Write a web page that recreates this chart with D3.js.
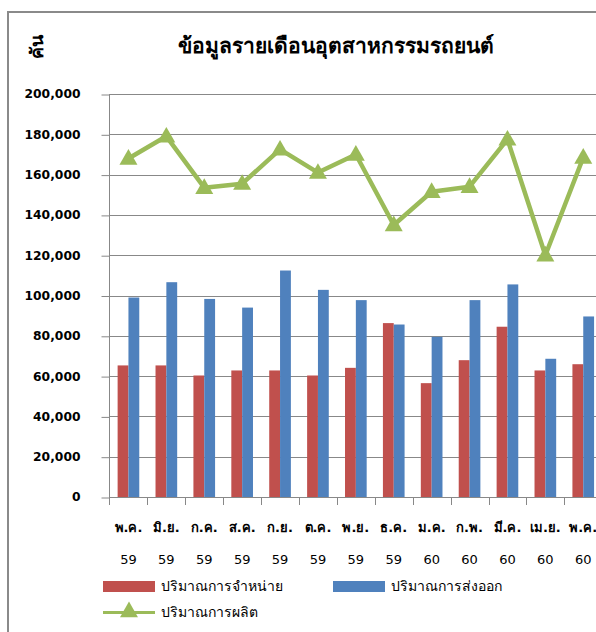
<!DOCTYPE html>
<html><head><meta charset="utf-8">
<script src="https://cdn.jsdelivr.net/npm/d3@7"></script>
<style>body{margin:0;background:#fff}svg{display:block}</style>
</head><body>
<script>
const months = ["พ.ค.","มิ.ย.","ก.ค.","ส.ค.","ก.ย.","ต.ค.","พ.ย.","ธ.ค.","ม.ค.","ก.พ.","มี.ค.","เม.ย.","พ.ค."];
const years = ["59","59","59","59","59","59","59","59","60","60","60","60","60"];
const sales = [65300,65300,60300,62800,62800,60300,64100,86300,56500,67900,84500,62800,65900];
const exportsV = [99000,106600,98300,94000,112400,102800,97700,85600,79500,97700,105500,68600,89600];
const production = [168000,179000,153500,155500,172500,161000,170000,135000,151500,154000,177500,120000,168500];
const yTicks = [0,20000,40000,60000,80000,100000,120000,140000,160000,180000,200000];
const seriesNames = ["ปริมาณการจำหน่าย","ปริมาณการส่งออก","ปริมาณการผลิต"];
const colors = ["#C0504D","#4F81BD","#9BBB59"];

(function(){
const W=596,H=632;
const svg=d3.select("body").append("svg").attr("width",W).attr("height",H);
const thai="Tahoma,'DejaVu Sans','Noto Sans',sans-serif";

svg.append("rect").attr("x",8).attr("y",12).attr("width",800).attr("height",800)
  .attr("fill","#fff").attr("stroke","#8a8a8a").attr("stroke-width",2);

const pL=109.5, pT=94, pB=497;
const idx=months.map((m,i)=>i);
const x=d3.scaleBand().domain(idx).range([pL,pL+13*37.9]).paddingInner(0).paddingOuter(0);
const y=d3.scaleLinear().domain([0,200000]).range([pB,pT]);
const bw=x.bandwidth()/3.5;

svg.append("g").selectAll("line").data(yTicks).join("line")
  .attr("x1",pL).attr("x2",W).attr("y1",d=>Math.round(y(d))+0.5).attr("y2",d=>Math.round(y(d))+0.5)
  .attr("stroke","#888").attr("stroke-width",1);

const ya=svg.append("g").attr("transform",`translate(${pL},0)`)
  .call(d3.axisLeft(y).tickValues(yTicks).tickSize(8).tickPadding(21).tickFormat(d3.format(",")));
ya.select(".domain").remove();
ya.selectAll(".tick line").attr("stroke","#888").attr("transform","translate(0,0.5)");
ya.selectAll("text").attr("font-family","'DejaVu Sans',Verdana,sans-serif").attr("font-weight","bold").attr("font-size",12.3).attr("fill","#000");
svg.append("line").attr("x1",pL).attr("x2",pL).attr("y1",pT).attr("y2",pB+8).attr("stroke","#888");

svg.append("g").selectAll("line").data(idx.slice(1)).join("line")
  .attr("x1",d=>Math.round(x(d))+0.5).attr("x2",d=>Math.round(x(d))+0.5).attr("y1",pB).attr("y2",pB+8)
  .attr("stroke","#888");

const g=svg.append("g");
g.selectAll(".s").data(sales).join("rect").attr("class","s").attr("fill",colors[0])
  .attr("x",(d,i)=>x(i)+0.75*bw).attr("width",bw).attr("y",d=>y(d)).attr("height",d=>pB-y(d));
g.selectAll(".e").data(exportsV).join("rect").attr("class","e").attr("fill",colors[1])
  .attr("x",(d,i)=>x(i)+1.75*bw).attr("width",bw).attr("y",d=>y(d)).attr("height",d=>pB-y(d));
svg.append("line").attr("x1",pL).attr("x2",W).attr("y1",pB+0.5).attr("y2",pB+0.5).attr("stroke","#888");

const cx=i=>x(i)+x.bandwidth()/2;
svg.append("path").datum(production).attr("fill","none").attr("stroke",colors[2]).attr("stroke-width",4.5)
  .attr("stroke-linejoin","round")
  .attr("d",d3.line().x((d,i)=>cx(i)).y(d=>y(d)));
const tri=d3.symbol().type(d3.symbolTriangle).size(140);
svg.append("g").selectAll("path").data(production).join("path")
  .attr("d",tri).attr("fill",colors[2])
  .attr("transform",(d,i)=>`translate(${cx(i)},${y(d)+1})`);

const xl=svg.append("g").attr("font-family",thai).attr("font-size",13).attr("fill","#000").attr("text-anchor","middle");
xl.selectAll(".m").data(months).join("text").attr("class","m").attr("x",(d,i)=>cx(i)).attr("y",532).attr("font-weight","bold").text(d=>d);
xl.selectAll(".yr").data(years).join("text").attr("class","yr").attr("x",(d,i)=>cx(i)).attr("y",564).text(d=>d);

svg.append("text").attr("x",336).attr("y",53).attr("text-anchor","middle")
  .attr("font-family",thai).attr("font-weight","bold").attr("font-size",21).text("ข้อมูลรายเดือนอุตสาหกรรมรถยนต์");
svg.append("text").attr("transform","translate(43,47) rotate(-90)").attr("text-anchor","middle")
  .attr("font-family",thai).attr("font-weight","bold").attr("font-size",18).text("คัน");

const lg=svg.append("g").attr("font-family",thai).attr("font-size",14).attr("fill","#000");
lg.append("rect").attr("x",103).attr("y",581).attr("width",52).attr("height",11).attr("fill",colors[0]);
lg.append("text").attr("x",161).attr("y",591).text(seriesNames[0]);
lg.append("rect").attr("x",333).attr("y",581).attr("width",52).attr("height",11).attr("fill",colors[1]);
lg.append("text").attr("x",391).attr("y",591).text(seriesNames[1]);
lg.append("line").attr("x1",103).attr("x2",155).attr("y1",612.5).attr("y2",612.5).attr("stroke",colors[2]).attr("stroke-width",3);
lg.append("path").attr("d",tri).attr("fill",colors[2]).attr("transform","translate(129,612)");
lg.append("text").attr("x",161).attr("y",617).text(seriesNames[2]);
})();
</script>
</body></html>
